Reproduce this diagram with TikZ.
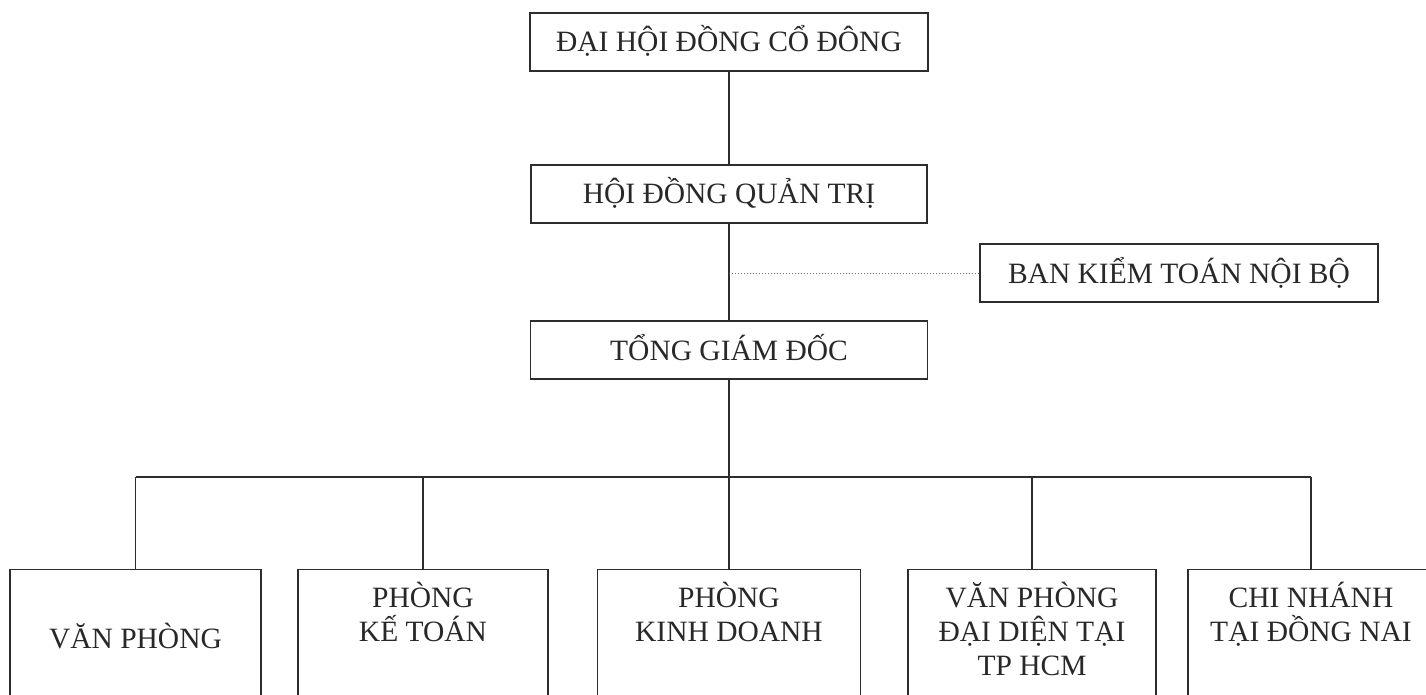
\documentclass[tikz,border=0pt]{standalone}
\usepackage{fontspec}
\setmainfont{Liberation Serif}
\definecolor{linec}{RGB}{45,45,45}
\definecolor{txtc}{RGB}{40,40,40}
\definecolor{dotc}{RGB}{110,110,110}
\newcommand\orgfont{\fontsize{29.5}{34}\selectfont}
\begin{document}
\begin{tikzpicture}[x=1pt,y=-1pt,
  ln/.style={line width=1.4pt, draw=linec},
  topbox/.style={draw=linec, line width=1.4pt, rectangle, inner sep=0pt,
    minimum height=58pt, text height=20pt, text depth=0pt, font=\orgfont, text=txtc},
  botbox/.style={draw=linec, line width=1.4pt, rectangle, inner sep=0pt,
    anchor=north, font=\orgfont, text=txtc},
  dotln/.style={dotted, line width=1pt, draw=dotc}
]
\useasboundingbox (0,0) rectangle (1426,695);
\fill[white] (0,0) rectangle (1426,695);
\clip (0,0) rectangle (1426,695);

\node[topbox, minimum width=398pt] (dhcd) at (729,42) {ĐẠI HỘI ĐỒNG CỔ ĐÔNG};
\node[topbox, minimum width=396pt] (hdqt) at (729,194) {HỘI ĐỒNG QUẢN TRỊ};
\node[topbox, minimum width=397pt] (tgd) at (729,350) {TỔNG GIÁM ĐỐC};
\node[topbox, minimum width=398pt] (bk) at (1179,273) {BAN KIỂM TOÁN NỘI BỘ};

\node[botbox] (b1) at (135.5,569) {\parbox[t][170pt][t]{251pt}{\centering\rule{0pt}{79pt}VĂN PHÒNG}};
\node[botbox] (b2) at (423,569) {\parbox[t][170pt][t]{250pt}{\centering\rule{0pt}{38pt}PHÒNG\\KẾ TOÁN}};
\node[botbox] (b3) at (729,569) {\parbox[t][170pt][t]{263pt}{\centering\rule{0pt}{38pt}PHÒNG\\KINH DOANH}};
\node[botbox] (b4) at (1032,569) {\parbox[t][170pt][t]{248pt}{\centering\rule{0pt}{38pt}VĂN PHÒNG\\ĐẠI DIỆN TẠI\\TP HCM}};
\node[botbox] (b5) at (1311,569) {\parbox[t][170pt][t]{246pt}{\centering\rule{0pt}{38pt}CHI NHÁNH\\TẠI ĐỒNG NAI}};

\coordinate (bus) at (729,477);

\draw[ln] (dhcd.south) -- (hdqt.north);
\draw[ln] (hdqt.south) -- (tgd.north);
\draw[ln] (tgd.south) -- (bus);
\draw[ln] (b1.north |- bus) -- (b5.north |- bus);
\foreach \b in {b1,b2,b3,b4,b5}{
  \draw[ln] (\b.north |- bus) -- (\b.north);
}
\draw[dotln] (bk.west -| hdqt.south) -- (bk.west);
\end{tikzpicture}
\end{document}
